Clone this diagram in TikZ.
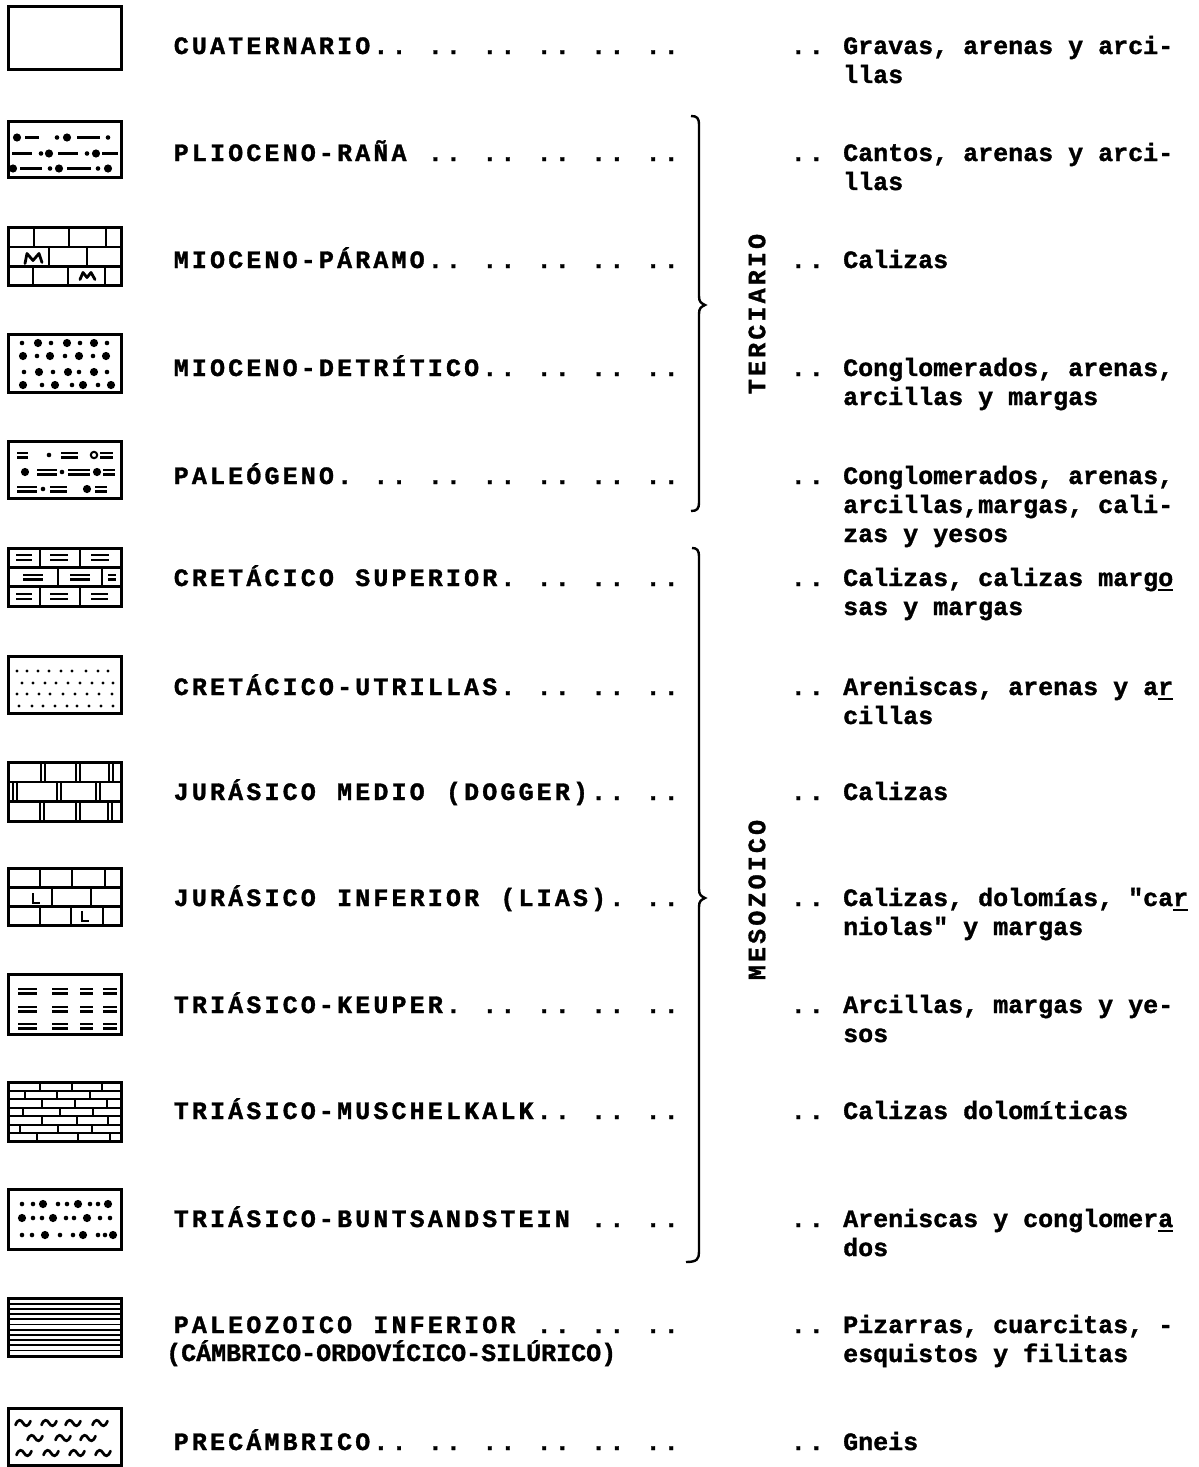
\documentclass[tikz,border=0pt]{standalone}
\usepackage{fontspec}
\newfontfamily\monofam{Liberation Mono}[BoldFeatures={FakeBold=1.3}]
\ExplSyntaxOn
\cs_new_protected:Npn \GridTxt #1
  { \str_map_inline:nn {#1} { \hbox_to_wd:nn {18.15pt} { \hss ##1 \hss } } }
\ExplSyntaxOff
\newcommand\UL[1]{\setbox0\hbox{#1}\rlap{\rule[-5pt]{\wd0}{1.8pt}}\box0}
\newcommand\BD[2]{\fill (#1,#2) circle[radius=4.1pt];}
\newcommand\SD[2]{\fill (#1,#2) circle[radius=2.3pt];}
\newcommand\TD[2]{\fill (#1,#2) circle[radius=1.6pt];}
\newcommand\DDash[3]{\draw[pl] (#1,#3-2.4) -- (#2,#3-2.4) (#1,#3+2.4) -- (#2,#3+2.4);}
\newcommand\Tilde[2]{\draw[tl] (#1-7.5,#2+2) .. controls (#1-5,#2-4.5) and (#1-2,#2-3.5) .. (#1,#2) .. controls (#1+2,#2+3.5) and (#1+5,#2+4.5) .. (#1+7.5,#2-2);}
\tikzset{
  lbox/.style={draw, line width=3pt, minimum width=113pt, inner sep=0pt, outer sep=0pt},
  il/.style={line width=2.6pt},
  pl/.style={line width=2.2pt},
  tl/.style={line width=2.7pt, line cap=round},
  lab/.style={anchor=base west, inner sep=0pt, font=\monofam\bfseries\fontsize{25pt}{29pt}\selectfont},
  desc/.style={anchor=base west, inner sep=0pt, font=\monofam\bfseries\fontsize{25pt}{29pt}\selectfont},
  era/.style={rotate=90, anchor=center, inner sep=0pt, font=\monofam\bfseries\fontsize{25pt}{29pt}\selectfont},
  brace/.style={line width=2.4pt},
}
\begin{document}
\begin{tikzpicture}[x=1pt,y=-1pt]
\useasboundingbox (0,0) rectangle (1199,1467);

% ---------------- boxes ----------------
\node[lbox, minimum height=62.5pt] (b1) at (64.5,37.75) {};
\node[lbox, minimum height=56pt] (b2) at (64.5,149.5) {};
\node[lbox, minimum height=58pt] (b3) at (64.5,256.5) {};
\node[lbox, minimum height=58.5pt] (b4) at (64.5,363.25) {};
\node[lbox, minimum height=57.5pt] (b5) at (64.5,469.75) {};
\node[lbox, minimum height=58pt] (b6) at (64.5,577) {};
\node[lbox, minimum height=57pt] (b7) at (64.5,684.5) {};
\node[lbox, minimum height=58.5pt] (b8) at (64.5,791.75) {};
\node[lbox, minimum height=57.5pt] (b9) at (64.5,896.75) {};
\node[lbox, minimum height=60pt] (b10) at (64.5,1004) {};
\node[lbox, minimum height=59pt] (b11) at (64.5,1112) {};
\node[lbox, minimum height=60pt] (b12) at (64.5,1219) {};
\node[lbox, minimum height=57.5pt] (b13) at (64.5,1327.25) {};
\node[lbox, minimum height=57pt] (b14) at (64.5,1436.5) {};

% Plioceno-Raña
\begin{scope}[shift={(b2.north west)}]
\clip (0,0) rectangle (113,56);
\BD{9}{16} \draw[pl] (17,16)--(31,16); \SD{49}{16} \BD{59}{16} \draw[pl] (69,16)--(92,16); \SD{100}{16}
\draw[pl] (4,32)--(24,32); \SD{33}{32} \BD{41}{32} \draw[pl] (50,32)--(70,32); \SD{79}{32} \BD{88}{32} \draw[pl] (94,32)--(110,32);
\BD{5}{47} \draw[pl] (12,47)--(34,47); \SD{42}{47} \BD{51}{47} \draw[pl] (59,47)--(83,47); \SD{90}{47} \BD{100}{47}
\end{scope}

% Mioceno-Paramo
\begin{scope}[shift={(b3.north west)}]
\clip (0,0) rectangle (113,58);
\draw[il] (0,19.3)--(113,19.3) (0,38.7)--(113,38.7);
\draw[il] (26,0)--(26,19.3) (61,0)--(61,19.3) (98,0)--(98,19.3);
\draw[il] (41,19.3)--(41,38.7) (79,19.3)--(79,38.7);
\draw[il] (25,38.7)--(25,58) (60,38.7)--(60,58) (97,38.7)--(97,58);
\draw[line width=2.8pt, line join=round, line cap=round] (17,36)--(19,26)--(25,33)--(31,26)--(34,35);
\draw[line width=2.8pt, line join=round, line cap=round] (72,52)--(75,45)--(79,50)--(83,45)--(87,52);
\end{scope}

% Mioceno-Detritico
\begin{scope}[shift={(b4.north west)}]
\clip (0,0) rectangle (113,58.5);
\SD{14}{9} \BD{30}{9} \SD{43}{9} \BD{59}{9} \SD{72}{9} \BD{86}{9} \SD{99}{9}
\BD{15}{22} \SD{29}{22} \BD{42}{22} \SD{57}{22} \BD{71}{22} \SD{85}{22} \BD{98}{22}
\SD{16}{38} \BD{31}{38} \SD{45}{38} \BD{60}{38} \SD{71}{38} \BD{86}{38} \SD{99}{38}
\BD{15}{51} \SD{34}{51} \BD{47}{51} \SD{64}{51} \BD{75}{51} \SD{90}{51} \BD{103}{51}
\end{scope}

% Paleogeno
\begin{scope}[shift={(b5.north west)}]
\clip (0,0) rectangle (113,57.5);
\DDash{9}{20}{14} \SD{41}{14} \DDash{53}{70}{14} \draw[line width=2pt] (86,14) circle[radius=3.2pt]; \DDash{92}{105}{14}
\BD{17}{31} \DDash{29}{49}{31} \SD{54}{31} \DDash{60}{82}{31} \BD{89}{31} \DDash{95}{107}{31}
\DDash{9}{29}{48} \SD{35}{48} \DDash{42}{59}{48} \BD{79}{48} \DDash{87}{99}{48}
\end{scope}

% Cretacico superior
\begin{scope}[shift={(b6.north west)}]
\clip (0,0) rectangle (113,58);
\draw[il] (0,19.3)--(113,19.3) (0,38.7)--(113,38.7);
\draw[il] (32,0)--(32,19.3) (72,0)--(72,19.3);
\draw[il] (50,19.3)--(50,38.7) (94,19.3)--(94,38.7);
\draw[il] (32,38.7)--(32,58) (72,38.7)--(72,58);
\DDash{8}{24}{9.7} \DDash{42}{60}{9.7} \DDash{83}{101}{9.7}
\DDash{15}{35}{29} \DDash{62}{82}{29} \DDash{100}{108}{29}
\DDash{8}{24}{48.3} \DDash{42}{60}{48.3} \DDash{83}{100}{48.3}
\end{scope}

% Cretacico-Utrillas
\begin{scope}[shift={(b7.north west)}]
\clip (0,0) rectangle (113,57);
\foreach \x in {9,19,30,41,53,64,78,90,100} {\TD{\x}{15}}
\foreach \x in {14,25,37,48,60,72,84,95,105} {\TD{\x}{27}}
\foreach \x in {9,19,31,42,55,67,79,91,104} {\TD{\x}{38}}
\foreach \x in {11,24,35,47,59,69,81,93,105} {\TD{\x}{50}}
\end{scope}

% Jurasico medio
\begin{scope}[shift={(b8.north west)}]
\clip (0,0) rectangle (113,58.5);
\draw[il] (0,19.5)--(113,19.5) (0,39)--(113,39);
\foreach \x in {33,68,101} {\draw[pl] (\x,0)--(\x,19.5) (\x+3.8,0)--(\x+3.8,19.5);}
\foreach \x in {5,49,88} {\draw[pl] (\x,19.5)--(\x,39) (\x+3.8,19.5)--(\x+3.8,39);}
\foreach \x in {32,68,100} {\draw[pl] (\x,39)--(\x,58.5) (\x+3.8,39)--(\x+3.8,58.5);}
\end{scope}

% Jurasico inferior
\begin{scope}[shift={(b9.north west)}]
\clip (0,0) rectangle (113,57.5);
\draw[il] (0,19.2)--(113,19.2) (0,38.3)--(113,38.3);
\draw[il] (32,0)--(32,19.2) (64,0)--(64,19.2) (97,0)--(97,19.2);
\draw[il] (44,19.2)--(44,38.3) (83,19.2)--(83,38.3);
\draw[il] (32,38.3)--(32,57.5) (63,38.3)--(63,57.5) (95,38.3)--(95,57.5);
\draw[line width=2.8pt] (25,25)--(25,35)--(32,35);
\draw[line width=2.8pt] (74,43)--(74,53)--(81,53);
\end{scope}

% Triasico-Keuper
\begin{scope}[shift={(b10.north west)}]
\clip (0,0) rectangle (113,60);
\foreach \y in {17,35,52} {\DDash{10}{29}{\y} \DDash{44}{60}{\y} \DDash{72}{85}{\y} \DDash{95}{109}{\y}}
\end{scope}

% Triasico-Muschelkalk
\begin{scope}[shift={(b11.north west)}]
\clip (0,0) rectangle (113,59);
\foreach \k in {1,...,6} {\draw[pl] (0,\k*8.43)--(113,\k*8.43);}
\foreach \x/\r in {32/0,64/0,94/0, 17/1,49/1,82/1, 34/2,67/2,99/2, 15/3,52/3,85/3, 34/4,69/4,100/4, 12/5,50/5,84/5, 29/6,70/6,102/6}
  {\draw[pl] (\x,\r*8.43)--(\x,\r*8.43+8.43);}
\end{scope}

% Triasico-Buntsandstein
\begin{scope}[shift={(b12.north west)}]
\clip (0,0) rectangle (113,60);
\SD{14}{15} \SD{25}{15} \BD{35}{15} \SD{50}{15} \SD{59}{15} \BD{70}{15} \SD{82}{15} \SD{90}{15} \BD{100}{15}
\BD{14}{29} \SD{25}{29} \SD{34}{29} \BD{45}{29} \SD{58}{29} \SD{66}{29} \BD{79}{29} \SD{92}{29} \SD{102}{29}
\SD{14}{46} \SD{24}{46} \BD{37}{46} \SD{52}{46} \SD{65}{46} \BD{75}{46} \SD{90}{46} \SD{97}{46} \BD{105}{46}
\end{scope}

% Paleozoico inferior
\begin{scope}[shift={(b13.north west)}]
\clip (0,0) rectangle (113,57.5);
\foreach \k in {1,...,10} {\draw[line width=1.9pt] (0,\k*5.2)--(113,\k*5.2);}
\end{scope}

% Precambrico
\begin{scope}[shift={(b14.north west)}]
\clip (0,0) rectangle (113,57);
\Tilde{15}{15} \Tilde{41}{15} \Tilde{65}{15} \Tilde{92}{15}
\Tilde{27}{30} \Tilde{55}{30} \Tilde{80}{30}
\Tilde{16}{45} \Tilde{43}{45} \Tilde{69}{45} \Tilde{95}{45}
\end{scope}

% borders on top
\foreach \b in {b1,b2,b3,b4,b5,b6,b7,b8,b9,b10,b11,b12,b13,b14}
  {\draw[line width=3pt] (\b.north west) rectangle (\b.south east);}

% ---------------- left labels ----------------
\node[lab] (l1) at (172,54) {\GridTxt{CUATERNARIO.. .. .. .. .. ..}};
\node[lab] (l2) at (172,161) {\GridTxt{PLIOCENO-RAÑA .. .. .. .. ..}};
\node[lab] (l3) at (172,268) {\GridTxt{MIOCENO-PÁRAMO.. .. .. .. ..}};
\node[lab] (l4) at (172,376) {\GridTxt{MIOCENO-DETRÍTICO.. .. .. ..}};
\node[lab] (l5) at (172,484) {\GridTxt{PALEÓGENO. .. .. .. .. .. ..}};
\node[lab] (l6) at (172,586) {\GridTxt{CRETÁCICO SUPERIOR. .. .. ..}};
\node[lab] (l7) at (172,695) {\GridTxt{CRETÁCICO-UTRILLAS. .. .. ..}};
\node[lab] (l8) at (172,800) {\GridTxt{JURÁSICO MEDIO (DOGGER).. ..}};
\node[lab] (l9) at (172,906) {\GridTxt{JURÁSICO INFERIOR (LIAS). ..}};
\node[lab] (l10) at (172,1013) {\GridTxt{TRIÁSICO-KEUPER. .. .. .. ..}};
\node[lab] (l11) at (172,1119) {\GridTxt{TRIÁSICO-MUSCHELKALK.. .. ..}};
\node[lab] (l12) at (172,1227) {\GridTxt{TRIÁSICO-BUNTSANDSTEIN .. ..}};
\node[lab] (l13) at (172,1333) {\GridTxt{PALEOZOICO INFERIOR .. .. ..}};
\node[desc] (l13b) at (166,1361) {(CÁMBRICO-ORDOVÍCICO-SILÚRICO)};
\node[lab] (l14) at (172,1450) {\GridTxt{PRECÁMBRICO.. .. .. .. .. ..}};

% ---------------- braces ----------------
\draw[brace] (691,116) .. controls (697,116) and (699,118) .. (699,125) -- (699,296)
  .. controls (699,302) and (701,303) .. (705,305) .. controls (701,307) and (699,308) .. (699,314)
  -- (699,502) .. controls (699,509) and (697,511) .. (691,511);
\draw[brace] (692,548) .. controls (697,548) and (699,550) .. (699,557) -- (699,889)
  .. controls (699,895) and (701,896) .. (705,898) .. controls (701,900) and (699,901) .. (699,907)
  -- (699,1252) .. controls (699,1259) and (697,1262) .. (686,1262);
\node[era] (ter) at (757,314) {\GridTxt{TERCIARIO}};
\node[era] (mes) at (757,900) {\GridTxt{MESOZOICO}};

% ---------------- descriptions ----------------
\foreach \n/\y in {1/54,2/161,3/268,4/376,5/484,6/586,7/695,8/800,9/906,10/1013,11/1119,12/1227,13/1333,14/1450}
  {\node[lab] (p\n) at (789,\y) {\GridTxt{..}};}
\node[desc] (d1a) at (843,54) {Gravas, arenas y arci-};
\node[desc] (d1b) at (843,83) {llas};
\node[desc] (d2a) at (843,161) {Cantos, arenas y arci-};
\node[desc] (d2b) at (843,190) {llas};
\node[desc] (d3a) at (843,268) {Calizas};
\node[desc] (d4a) at (843,376) {Conglomerados, arenas,};
\node[desc] (d4b) at (843,405) {arcillas y margas};
\node[desc] (d5a) at (843,484) {Conglomerados, arenas,};
\node[desc] (d5b) at (843,513) {arcillas,margas, cali-};
\node[desc] (d5c) at (843,542) {zas y yesos};
\node[desc] (d6a) at (843,586) {Calizas, calizas marg\UL{o}};
\node[desc] (d6b) at (843,615) {sas y margas};
\node[desc] (d7a) at (843,695) {Areniscas, arenas y a\UL{r}};
\node[desc] (d7b) at (843,724) {cillas};
\node[desc] (d8a) at (843,800) {Calizas};
\node[desc] (d9a) at (843,906) {Calizas, dolomías, "ca\UL{r}};
\node[desc] (d9b) at (843,935) {niolas" y margas};
\node[desc] (d10a) at (843,1013) {Arcillas, margas y ye-};
\node[desc] (d10b) at (843,1042) {sos};
\node[desc] (d11a) at (843,1119) {Calizas dolomíticas};
\node[desc] (d12a) at (843,1227) {Areniscas y conglomer\UL{a}};
\node[desc] (d12b) at (843,1256) {dos};
\node[desc] (d13a) at (843,1333) {Pizarras, cuarcitas, -};
\node[desc] (d13b) at (843,1362) {esquistos y filitas};
\node[desc] (d14a) at (843,1450) {Gneis};
\end{tikzpicture}
\end{document}
